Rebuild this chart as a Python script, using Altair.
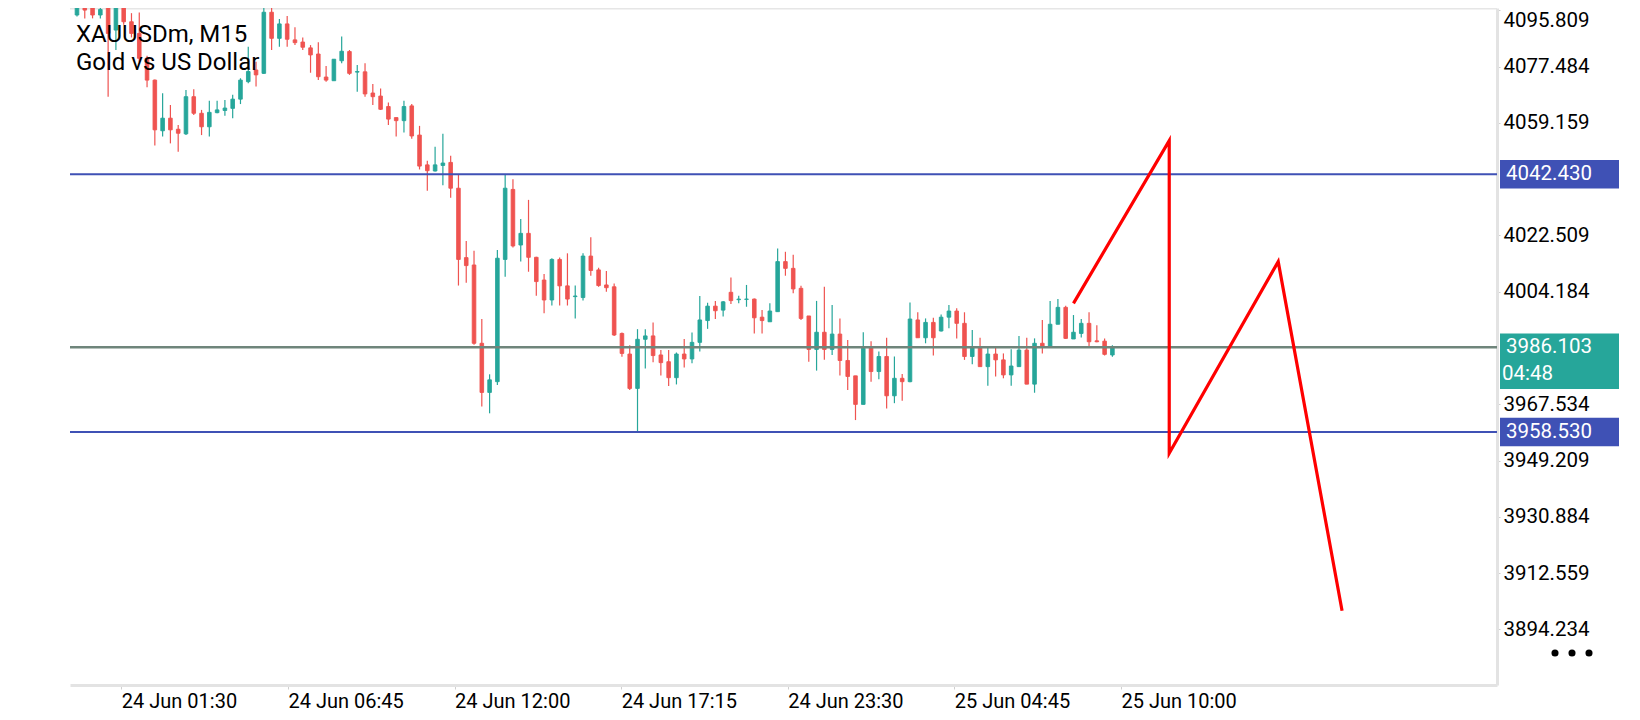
import altair as alt
import pandas as pd

# ---------------- data ----------------
open_ = [4094.3, 4097.9, 4097.9, 4094.3, 4096.8, 4089.4, 4097.9, 4092.1, 4088.3, 4080.2,
         4073.1, 4056.6, 4060.7, 4057.1, 4055.6, 4067.7, 4062.3, 4057.9, 4062.5, 4063.2,
         4063.9, 4066.9, 4072.6, 4076.4, 4075.3, 4095.2, 4086.7, 4091.4, 4086.2, 4085.5,
         4083.6, 4081.6, 4074.1, 4072.9, 4079.4, 4082.4, 4075.7, 4075.8, 4068.9, 4067.9,
         4064.5, 4060.9, 4059.9, 4064.7, 4055.2, 4045.5, 4043.5, 4045.3, 4046.3, 4037.9,
         4015.3, 4012.9, 3987.4, 3971.4, 3974.9, 4014.7, 4037.5, 4019.4, 4023.2, 4015.4,
         4008.0, 4001.5, 4014.7, 4006.1, 4002.6, 4002.3, 4015.8, 4011.3, 4006.4, 4005.8,
         3990.6, 3983.9, 3972.7, 3988.7, 3989.8, 3983.6, 3981.4, 3976.2, 3983.9, 3982.3,
         3987.7, 3994.8, 3999.5, 3998.2, 4004.0, 4001.6, 4001.7, 4001.8, 3995.9, 3994.4,
         3997.7, 4014.0, 4011.8, 4005.3, 3996.3, 3985.4, 3991.0, 3985.4, 3990.4, 3981.8,
         3976.8, 3967.5, 3986.3, 3978.2, 3983.1, 3970.3, 3976.0, 3974.9, 3995.0, 3989.2,
         3994.2, 3991.4, 3995.9, 3997.9, 3993.9, 3983.1, 3986.3, 3979.8, 3983.9, 3982.0,
         3977.1, 3979.8, 3985.2, 3974.1, 3987.4, 3986.3, 3993.6, 3999.1, 3988.8, 3990.6,
         3993.9, 3988.2, 3988.1, 3983.6]
high = [4098.6, 4098.6, 4098.6, 4097.0, 4097.0, 4098.6, 4098.6, 4094.9, 4095.1, 4081.0,
        4073.3, 4068.8, 4065.0, 4058.5, 4069.9, 4070.1, 4063.4, 4066.4, 4066.4, 4066.6,
        4068.3, 4073.7, 4084.0, 4079.1, 4096.8, 4097.0, 4093.0, 4094.0, 4090.3, 4087.0,
        4084.5, 4085.4, 4077.7, 4079.9, 4087.3, 4082.9, 4078.0, 4078.6, 4071.8, 4070.4,
        4065.8, 4060.9, 4066.4, 4065.3, 4058.2, 4046.8, 4051.4, 4055.6, 4048.5, 4042.2,
        4020.7, 4017.5, 3995.3, 3977.3, 4017.8, 4042.2, 4040.8, 4027.9, 4034.1, 4015.6,
        4010.0, 4015.1, 4015.3, 4016.7, 4006.2, 4016.7, 4021.9, 4012.0, 4010.9, 4006.9,
        3990.9, 3986.8, 3992.0, 3992.0, 3994.2, 3985.2, 3985.2, 3984.4, 3988.8, 3990.9,
        4002.8, 4000.6, 4001.2, 4001.2, 4008.8, 4002.9, 4006.4, 4002.0, 3998.2, 4000.4,
        4018.3, 4017.2, 4016.2, 4006.1, 3996.3, 4001.2, 4005.8, 3999.9, 3995.5, 3988.5,
        3976.8, 3991.0, 3988.1, 3984.7, 3989.2, 3983.1, 3977.4, 4000.7, 3997.5, 3995.5,
        3995.7, 3996.8, 3999.9, 3998.8, 3997.5, 3991.7, 3989.2, 3986.5, 3986.3, 3984.1,
        3985.5, 3989.8, 3989.2, 3989.0, 3995.0, 4001.2, 4001.8, 3999.6, 3996.6, 3995.3,
        3997.5, 3993.3, 3989.0, 3986.8]
low = [4093.8, 4093.2, 4093.2, 4093.2, 4067.7, 4082.9, 4091.1, 4087.0, 4079.1, 4070.8,
       4051.8, 4054.7, 4052.5, 4049.8, 4055.2, 4061.7, 4055.2, 4054.7, 4062.3, 4061.5,
       4060.7, 4065.3, 4072.1, 4071.0, 4075.1, 4082.9, 4084.0, 4084.0, 4084.5, 4082.9,
       4075.5, 4073.1, 4072.6, 4072.9, 4078.6, 4074.8, 4069.3, 4067.7, 4065.0, 4063.4,
       4058.5, 4054.7, 4056.0, 4054.0, 4044.0, 4037.1, 4043.3, 4038.9, 4034.8, 4006.2,
       4007.1, 3986.9, 3966.8, 3964.6, 3973.8, 4009.1, 4018.6, 4014.0, 4010.7, 4002.9,
       3997.2, 3999.7, 3999.7, 3999.7, 3995.5, 4001.3, 4009.4, 4005.8, 4004.2, 3989.8,
       3983.0, 3972.2, 3958.6, 3979.2, 3981.2, 3976.9, 3973.5, 3974.0, 3979.5, 3980.9,
       3984.7, 3992.1, 3995.3, 3996.1, 4000.2, 4000.4, 3999.3, 3990.6, 3990.6, 3994.4,
       3997.7, 4009.4, 4003.7, 3995.0, 3981.4, 3978.5, 3982.0, 3983.6, 3976.9, 3972.2,
       3962.4, 3967.5, 3974.9, 3975.7, 3966.2, 3967.9, 3968.7, 3974.7, 3989.2, 3987.4,
       3983.4, 3991.2, 3992.3, 3989.0, 3982.0, 3980.6, 3979.8, 3973.6, 3976.6, 3976.0,
       3973.6, 3979.8, 3974.1, 3971.3, 3984.1, 3986.3, 3993.6, 3988.8, 3988.8, 3989.3,
       3986.3, 3987.7, 3983.4, 3983.0]
close = [4097.9, 4095.9, 4094.3, 4096.1, 4088.3, 4097.9, 4092.1, 4088.3, 4080.2, 4073.1,
         4056.9, 4060.7, 4056.9, 4055.8, 4067.7, 4062.3, 4057.9, 4062.6, 4063.4, 4064.0,
         4066.9, 4073.1, 4075.9, 4074.8, 4095.2, 4086.7, 4091.4, 4086.4, 4085.3, 4083.8,
         4081.3, 4074.2, 4073.1, 4079.9, 4082.5, 4075.3, 4075.9, 4068.6, 4067.7, 4063.6,
         4060.4, 4059.9, 4064.5, 4054.9, 4045.1, 4043.6, 4045.5, 4046.1, 4037.9, 4014.7,
         4012.7, 3987.4, 3971.4, 3975.5, 4015.1, 4037.9, 4019.1, 4023.2, 4015.4, 4007.5,
         4001.5, 4014.7, 4006.1, 4001.8, 4002.8, 4015.8, 4011.1, 4006.2, 4005.5, 3990.1,
         3984.1, 3972.7, 3988.7, 3989.8, 3983.4, 3981.1, 3976.2, 3983.9, 3982.3, 3987.7,
         3995.0, 3999.5, 3998.0, 4000.9, 4001.3, 4001.8, 4001.8, 3995.7, 3994.8, 3997.9,
         4014.0, 4011.8, 4005.1, 3995.5, 3985.4, 3991.0, 3985.4, 3990.4, 3981.8, 3976.6,
         3967.5, 3985.8, 3978.2, 3983.1, 3970.3, 3976.0, 3974.9, 3995.3, 3989.2, 3994.2,
         3989.2, 3995.9, 3997.9, 3993.9, 3983.1, 3986.3, 3979.8, 3983.9, 3982.0, 3977.1,
         3980.0, 3985.2, 3974.1, 3987.4, 3986.3, 3993.6, 3999.1, 3989.0, 3991.0, 3993.9,
         3987.9, 3987.9, 3983.8, 3986.1]

time_tick_pos = [5.7, 27.1, 48.5, 69.9, 91.3, 112.7, 134.1]
time_tick_labels = ["24 Jun 01:30", "24 Jun 06:45", "24 Jun 12:00", "24 Jun 17:15",
                    "24 Jun 23:30", "25 Jun 04:45", "25 Jun 10:00"]
price_ticks = [4095.809, 4077.484, 4059.159, 4022.509, 4004.184,
               3967.534, 3949.209, 3930.884, 3912.559, 3894.234]
levels = [4042.430, 3958.530]
current_price = 3986.103
countdown = "04:48"
path_pos = [128.0, 140.3, 140.3, 154.3, 162.5]
path_price = [4000.4, 4053.4, 3951.6, 4014.0, 3900.3]
title_lines = ["XAUUSDm, M15", "Gold vs US Dollar"]

# ---------------- layout ----------------
W, H = 1427, 677
X_DOMAIN = [-0.255, 181.76]
Y_DOMAIN = [3876.13, 4096.58]
PPU = H / (Y_DOMAIN[1] - Y_DOMAIN[0])
TEAL, RED, BLUE = "#26a69a", "#ef5350", "#3f51b5"
FONT = "Roboto"

xs = alt.Scale(domain=X_DOMAIN, nice=False, zero=False)
ys = alt.Scale(domain=Y_DOMAIN, nice=False, zero=False)

candles = pd.DataFrame({"i": list(range(len(open_))), "open": open_, "high": high,
                        "low": low, "close": close})
candles["dir"] = ["up" if c >= o else "down" for o, c in zip(open_, close)]
col = alt.Scale(domain=["up", "down"], range=[TEAL, RED])

label_expr = "{}[indexof({}, datum.value)]".format(
    "[" + ",".join("'%s'" % t for t in time_tick_labels) + "]",
    "[" + ",".join(str(v) for v in time_tick_pos) + "]")

x_axis = alt.Axis(values=time_tick_pos, labelExpr=label_expr, orient="bottom", grid=False,
                  domainColor="#e3e3e3", domainWidth=3, tickColor="#cfcfcf", tickSize=4,
                  labelFont=FONT, labelFontSize=20, labelColor="#000000", labelAlign="left",
                  labelBaseline="top", labelPadding=2, labelOverlap=False, labelFlush=False,
                  labelBound=False, title=None)
y_axis = alt.Axis(values=price_ticks, format=".3f", orient="right", grid=False,
                  domainColor="#e3e3e3", domainWidth=3, tickColor="#cfcfcf", tickSize=3,
                  labelFont=FONT, labelFontSize=20.5, labelColor="#000000", labelPadding=3,
                  labelAlign="left", labelBaseline="middle", labelOverlap=False,
                  labelOffset={"condition": {"test": "datum.value > 4090", "value": 10},
                               "value": 0},
                  labelFlush=False, labelBound=False, title=None)


def X(field):
    return alt.X(field, scale=xs, axis=x_axis, title=None)


def Y(field):
    return alt.Y(field, scale=ys, axis=y_axis, title=None)


base = alt.Chart(candles)
wicks = base.mark_rule(strokeWidth=1.2, clip=True).encode(
    x=X("i:Q"), y=Y("low:Q"), y2="high:Q",
    color=alt.Color("dir:N", scale=col, legend=None))
bodies = base.mark_bar(width=3.6, strokeWidth=0.9, clip=True).encode(
    x=X("i:Q"), y=Y("open:Q"), y2="close:Q",
    color=alt.Color("dir:N", scale=col, legend=None),
    stroke=alt.Stroke("dir:N", scale=col, legend=None))

top_border = alt.Chart(pd.DataFrame({"a": [0]})).mark_rule(
    color="#e6e6e6", strokeWidth=3).encode(
    x=alt.value(0), x2=alt.value(W), y=alt.value(0))

lv = alt.Chart(pd.DataFrame({"price": levels})).mark_rule(
    color=BLUE, strokeWidth=2).encode(y=Y("price:Q"))
cur = alt.Chart(pd.DataFrame({"price": [current_price]})).mark_rule(
    color="#6f857b", strokeWidth=2.6).encode(y=Y("price:Q"))

path = alt.Chart(pd.DataFrame({"step": list(range(len(path_pos))), "i": path_pos,
                               "price": path_price})).mark_line(
    color="#ff0000", strokeWidth=3.2, strokeJoin="miter", clip=True).encode(
    x=X("i:Q"), y=Y("price:Q"), order="step:Q")

box_rows = []
for p in levels:
    box_rows.append({"price": p, "label": "%.3f" % p, "top": p + 14.2 / PPU,
                     "bot": p - 14.2 / PPU, "fill": BLUE})
box_rows.append({"price": current_price, "label": "%.3f" % current_price,
                 "top": current_price + 13.8 / PPU, "bot": current_price - 41.7 / PPU,
                 "fill": TEAL})
boxes_df = pd.DataFrame(box_rows)
boxes = alt.Chart(boxes_df).mark_rect().encode(
    x=alt.value(W + 3), x2=alt.value(W + 122),
    y=Y("top:Q"), y2="bot:Q",
    color=alt.Color("fill:N", scale=None))
box_text = alt.Chart(boxes_df).mark_text(
    align="left", baseline="middle", font=FONT, fontSize=20.5, color="white").encode(
    x=alt.value(W + 9), y=Y("price:Q"), text="label:N")
timer_text = alt.Chart(pd.DataFrame({"price": [current_price], "t": [countdown]})).mark_text(
    align="left", baseline="middle", font=FONT, fontSize=20.5, color="white", dy=27).encode(
    x=alt.value(W + 5), y=Y("price:Q"), text="t:N")

title1 = alt.Chart(pd.DataFrame({"t": [title_lines[0]]})).mark_text(
    align="left", baseline="alphabetic", font=FONT, fontSize=24, color="#000000").encode(
    x=alt.value(6), y=alt.value(34), text="t:N")
title2 = alt.Chart(pd.DataFrame({"t": [title_lines[1]]})).mark_text(
    align="left", baseline="alphabetic", font=FONT, fontSize=24, color="#000000").encode(
    x=alt.value(6), y=alt.value(61.5), text="t:N")

# the three-dot menu glyph in the corner
dots = alt.Chart(pd.DataFrame({"px": [W + 58, W + 75, W + 92]})).mark_circle(
    color="#000000", opacity=1, size=50).encode(
    x=alt.X("px:Q", scale=None), y=alt.value(645))

chart = alt.layer(
    top_border, wicks, bodies, lv, cur, path, boxes, box_text, timer_text,
    title1, title2, dots
).properties(
    width=W, height=H,
    autosize=alt.AutoSizeParams(type="none"),
    padding={"left": 62, "top": 0, "right": 128, "bottom": 27},
    background="white"
).configure_view(stroke=None)

chart.save("out.html", embed_options={"renderer": "svg", "actions": False})
